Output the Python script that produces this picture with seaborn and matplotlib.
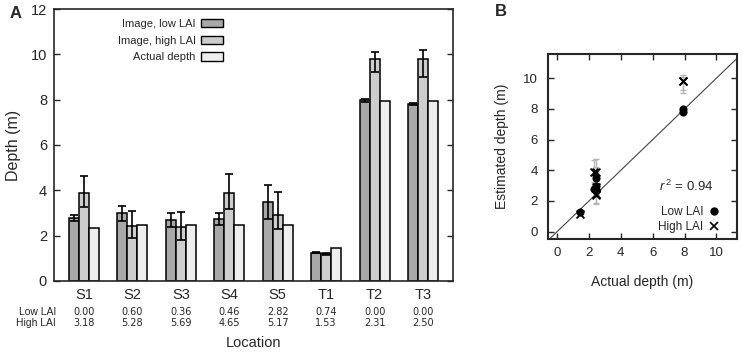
import numpy as np
import pandas as pd
import matplotlib
matplotlib.use("Agg")
import matplotlib.pyplot as plt
import matplotlib.transforms as mtransforms
from matplotlib.patches import Patch
from matplotlib.lines import Line2D
import seaborn as sns

# ---------------- data ----------------
locations = ["S1", "S2", "S3", "S4", "S5", "T1", "T2", "T3"]
low_lai = [2.79, 2.99, 2.69, 2.73, 3.50, 1.25, 7.97, 7.82]
low_err_lo = [0.14, 0.34, 0.30, 0.28, 0.76, 0.03, 0.06, 0.05]
low_err_hi = [0.14, 0.34, 0.30, 0.28, 0.72, 0.03, 0.06, 0.05]
high_lai = [3.90, 2.43, 2.37, 3.87, 2.91, 1.18, 9.79, 9.79]
high_err_lo = [0.65, 0.55, 0.56, 0.69, 0.62, 0.05, 0.58, 0.78]
high_err_hi = [0.75, 0.67, 0.66, 0.85, 1.00, 0.05, 0.32, 0.42]
actual = [2.34, 2.46, 2.46, 2.46, 2.46, 1.44, 7.92, 7.92]
row_low = ["0.00", "0.60", "0.36", "0.46", "2.82", "0.74", "0.00", "0.00"]
row_high = ["3.18", "5.28", "5.69", "4.65", "5.17", "1.53", "2.31", "2.50"]
series_names = ["Image, low LAI", "Image, high LAI", "Actual depth"]
series_colors = ["#a8a8a8", "#cdcdcd", "#eeeeee"]
r2_text = "0.94"

# ---------------- style ----------------
sns.set_theme(style="ticks")
plt.rcParams["font.family"] = ["Liberation Sans", "DejaVu Sans"]
plt.rcParams["axes.linewidth"] = 1.2
plt.rcParams["mathtext.fontset"] = "custom"
plt.rcParams["mathtext.rm"] = "Liberation Sans"
plt.rcParams["mathtext.it"] = "Liberation Sans:italic"

fig = plt.figure(figsize=(7.43, 3.53), dpi=100)
axA = fig.add_axes([0.0727, 0.204, 0.537, 0.7705])
axB = fig.add_axes([0.737, 0.323, 0.255, 0.524])

# ---------------- panel A ----------------
df = pd.DataFrame({
    "Location": locations * 3,
    "Depth": low_lai + high_lai + actual,
    "Series": [series_names[0]] * 8 + [series_names[1]] * 8 + [series_names[2]] * 8,
})
sns.barplot(data=df, x="Location", y="Depth", hue="Series", order=locations,
            hue_order=series_names, palette=series_colors, width=0.62,
            errorbar=None, edgecolor="black", linewidth=1.1, saturation=1,
            legend=False, ax=axA)

errs = [(low_lai, low_err_lo, low_err_hi), (high_lai, high_err_lo, high_err_hi)]
for cont, (vals, elo, ehi) in zip(axA.containers[:2], errs):
    xs = [b.get_x() + b.get_width() / 2 for b in cont]
    axA.errorbar(xs, vals, yerr=[elo, ehi], fmt="none", ecolor="black",
                 elinewidth=1.2, capsize=2.6, capthick=1.2, zorder=5)

axA.set_xlim(-0.62, 7.62)
axA.set_ylim(0, 12)
axA.set_yticks(np.arange(0, 13, 2))
axA.tick_params(axis="y", direction="in", length=4, width=1.0, labelsize=10.5,
                right=True, pad=5)
axA.tick_params(axis="x", length=0, labelsize=10.5, pad=5)
axA.set_xlabel("")
axA.set_ylabel("Depth (m)", fontsize=11.5)
axA.yaxis.set_label_coords(-0.083, 0.5)
for s in axA.spines.values():
    s.set_visible(True)
    s.set_linewidth(1.2)

handles = [Patch(facecolor=c, edgecolor="black", linewidth=1.0) for c in series_colors]
axA.legend(handles, series_names, loc="upper right", bbox_to_anchor=(0.437, 0.985),
           frameon=False, markerfirst=False, fontsize=8, handlelength=2.0,
           handleheight=0.75, handletextpad=0.45, labelspacing=0.62, borderpad=0)

trans = mtransforms.blended_transform_factory(axA.transData, axA.transAxes)
for i in range(len(locations)):
    axA.text(i, -0.113, row_low[i], transform=trans, ha="center", va="center",
             fontsize=7, family="DejaVu Sans")
    axA.text(i, -0.153, row_high[i], transform=trans, ha="center", va="center",
             fontsize=7, family="DejaVu Sans")
axA.text(0.005, -0.113, "Low LAI", transform=axA.transAxes, ha="right", va="center", fontsize=7.5)
axA.text(0.005, -0.153, "High LAI", transform=axA.transAxes, ha="right", va="center", fontsize=7.5)
axA.text(0.5, -0.228, "Location", transform=axA.transAxes, ha="center", va="center", fontsize=10.5)
fig.text(10 / 743, 1 - 13 / 353, "A", fontsize=12, fontweight="bold", va="center", ha="left")

# ---------------- panel B ----------------
axB.axline((0, 0), slope=1, color="#444444", linewidth=0.8, zorder=1)
axB.errorbar(actual, low_lai, yerr=[low_err_lo, low_err_hi], fmt="none",
             ecolor="#b5b5b5", elinewidth=1.0, capsize=2.5, capthick=1.0, zorder=2)
axB.errorbar(actual, high_lai, yerr=[high_err_lo, high_err_hi], fmt="none",
             ecolor="#b5b5b5", elinewidth=1.0, capsize=2.5, capthick=1.0, zorder=2)
sns.scatterplot(x=actual, y=low_lai, marker="o", color="black", s=28,
                edgecolor="black", linewidth=0.5, ax=axB, zorder=3)
sns.scatterplot(x=actual, y=high_lai, marker="x", color="black", s=32,
                linewidth=1.3, ax=axB, zorder=4)
axB.set_xlim(-0.6, 11.3)
axB.set_ylim(-0.48, 11.58)
axB.set_xticks(np.arange(0, 11, 2))
axB.set_yticks(np.arange(0, 11, 2))
axB.tick_params(direction="in", length=4, width=1.0, labelsize=9.5,
                top=True, right=True)
axB.tick_params(axis="x", pad=6)
axB.tick_params(axis="y", pad=7)
for s in axB.spines.values():
    s.set_visible(True)
    s.set_linewidth(1.5)
axB.set_xlabel("Actual depth (m)", fontsize=10)
axB.set_ylabel("Estimated depth (m)", fontsize=10)
axB.xaxis.set_label_coords(0.5, -0.195)
axB.yaxis.set_label_coords(-0.205, 0.5)
axB.text(8.1, 2.93, r"$r^{\,2}$ = " + r2_text, ha="center", va="center", fontsize=9.5)
legB = [Line2D([], [], marker="o", color="black", linestyle="none", markersize=5),
        Line2D([], [], marker="x", color="black", linestyle="none", markersize=5.5,
               markeredgewidth=1.2)]
axB.legend(legB, ["Low LAI", "High LAI"], loc="lower right", bbox_to_anchor=(0.935, 0.0),
           frameon=False, markerfirst=False, fontsize=8.5, handlelength=0.8,
           handletextpad=0.5, labelspacing=0.25, borderpad=0)
fig.text(495 / 743, 1 - 12 / 353, "B", fontsize=12, fontweight="bold", va="center", ha="left")

fig.savefig("out.png", dpi=100)
